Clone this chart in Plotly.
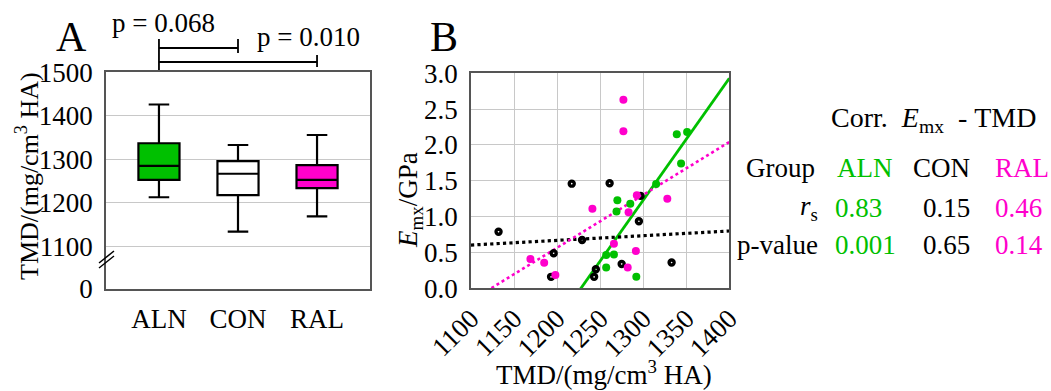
import plotly.graph_objects as go

# ---------------- data ----------------
categories = ["ALN", "CON", "RAL"]
box_lower = [1213, 1134, 1169]
box_q1 = [1253, 1218, 1234]
box_median = [1285, 1267, 1253]
box_q3 = [1337, 1296, 1287]
box_upper = [1426, 1333, 1356]
box_fill = ["#00c000", "#ffffff", "#ff00cc"]

yticks_A = [1003, 1100, 1200, 1300, 1400, 1500]
yticktext_A = ["0", "1100", "1200", "1300", "1400", "1500"]

sig_left = ["ALN", "ALN"]
sig_right = ["CON", "RAL"]
sig_text = ["p = 0.068", "p = 0.010"]

aln_tmd = [1339, 1351, 1344, 1315, 1270, 1285, 1269, 1257, 1266, 1257, 1292]
aln_emx = [2.15, 2.18, 1.74, 1.455, 1.23, 1.18, 1.07, 0.465, 0.47, 0.29, 0.16]
con_tmd = [1217, 1261, 1297, 1295, 1132, 1229, 1196, 1193, 1243, 1245, 1275, 1333]
con_emx = [1.46, 1.465, 1.29, 0.935, 0.79, 0.675, 0.49, 0.16, 0.16, 0.265, 0.34, 0.36]
ral_tmd = [1277, 1277, 1292.6, 1328, 1241, 1283, 1266, 1291.5, 1169, 1185, 1198, 1282]
ral_emx = [2.63, 2.19, 1.30, 1.25, 1.11, 1.06, 0.62, 0.52, 0.41, 0.357, 0.185, 0.29]

fit_slope = [0.0170, 0.000653, 0.00738]
fit_intercept = [-20.87, -0.115, -8.29]
fit_x = [1100, 1400]

rs_vals = ["0.83", "0.15", "0.46"]
p_vals = ["0.001", "0.65", "0.14"]

GREEN = "#00c000"
MAG = "#ff00cc"
FONT = "Liberation Serif"
FS = 27
W, H = 1051, 391


def px(x):
    return x / W


def py(y):
    return 1 - y / H


fig = go.Figure()

# ---------------- panel A: boxes ----------------
for i, c in enumerate(categories):
    fig.add_trace(go.Box(
        x=[i], q1=[box_q1[i]], median=[box_median[i]], q3=[box_q3[i]],
        lowerfence=[box_lower[i]], upperfence=[box_upper[i]],
        fillcolor=box_fill[i], line=dict(color="black", width=2.2),
        width=0.52, whiskerwidth=0.5, boxpoints=False,
        xaxis="x", yaxis="y", showlegend=False, hoverinfo="skip"))

# ---------------- panel B: scatter ----------------
groups = [(aln_tmd, aln_emx, GREEN), (con_tmd, con_emx, "black"), (ral_tmd, ral_emx, MAG)]
dashes = ["solid", "dot", "dot"]
widths = [2.8, 3.2, 2.6]
for k, (xs, ys, col) in enumerate(groups):
    fy = [fit_slope[k] * x + fit_intercept[k] for x in fit_x]
    fig.add_trace(go.Scatter(x=fit_x, y=fy, mode="lines",
                             line=dict(color=col, width=widths[k], dash=dashes[k]),
                             xaxis="x2", yaxis="y2", showlegend=False, hoverinfo="skip"))
for k, (xs, ys, col) in enumerate(groups):
    if col == "black":
        marker = dict(symbol="circle-open", size=5, color="black", line=dict(width=3.4, color="black"))
    else:
        marker = dict(symbol="circle", size=8, color=col, line=dict(width=0))
    fig.add_trace(go.Scatter(x=xs, y=ys, mode="markers", marker=marker,
                             xaxis="x2", yaxis="y2", showlegend=False, hoverinfo="skip"))

axis_common = dict(showline=True, linecolor="#555555", linewidth=1.5, mirror=True,
                   gridcolor="#c8c8c8", gridwidth=1.3, zeroline=False, automargin=False,
                   tickfont=dict(family=FONT, size=FS, color="black"))

fig.update_layout(
    width=W, height=H, margin=dict(l=0, r=0, t=0, b=0, autoexpand=False),
    paper_bgcolor="white", plot_bgcolor="white",
    font=dict(family=FONT, size=FS, color="black"),
    xaxis=dict(domain=[px(106), px(370)], range=[-0.67, 2.67],
               tickvals=[0, 1, 2], ticktext=categories, showgrid=False,
               ticks="", ticklabelstandoff=5, **{k: v for k, v in axis_common.items() if k != "gridcolor"}),
    yaxis=dict(domain=[py(288.7), py(72.3)], range=[1003, 1500],
               tickvals=yticks_A, ticktext=yticktext_A, ticks="", ticklabelstandoff=6,
               **axis_common),
    xaxis2=dict(domain=[px(471), px(729.3)], range=[1100, 1400], anchor="y2",
                tickvals=[1100, 1150, 1200, 1250, 1300, 1350, 1400], tickangle=-45,
                ticks="", ticklabelstandoff=2, **axis_common),
    yaxis2=dict(domain=[py(288.3), py(73.3)], range=[0, 3], anchor="x2",
                tickvals=[0, 0.5, 1, 1.5, 2, 2.5, 3], tickformat=".1f",
                ticks="", ticklabelstandoff=6, **axis_common),
)

# significance brackets
cat_idx = {c: i for i, c in enumerate(categories)}
bar_y = [48, 62]
bar_top = [39, 55]
text_pos = [(163, 23), (308, 37)]
shapes = []
for j in range(len(sig_text)):
    a, b = cat_idx[sig_left[j]], cat_idx[sig_right[j]]
    shapes.append(dict(type="line", xref="x", yref="paper", x0=a, x1=b,
                       y0=py(bar_y[j]), y1=py(bar_y[j]), line=dict(color="black", width=1.8)))
    shapes.append(dict(type="line", xref="x", yref="paper", x0=b, x1=b,
                       y0=py(bar_top[j]), y1=py(bar_y[j] + 5), line=dict(color="black", width=1.8)))
shapes.append(dict(type="line", xref="x", yref="paper", x0=0, x1=0,
                   y0=py(39), y1=py(70), line=dict(color="black", width=1.8)))
# axis break marks
for off in [0, 5]:
    shapes.append(dict(type="line", xref="paper", yref="paper",
                       x0=px(99), x1=px(114), y0=py(268 - off), y1=py(256 - off),
                       line=dict(color="black", width=1.5)))
fig.update_layout(shapes=shapes)

ann = []


def add(text, x, y, xanchor="center", yanchor="middle", size=FS, color="black", angle=0):
    ann.append(dict(text=text, x=px(x), y=py(y), xref="paper", yref="paper",
                    xanchor=xanchor, yanchor=yanchor, showarrow=False, textangle=angle,
                    font=dict(family=FONT, size=size, color=color)))


for j in range(len(sig_text)):
    add(sig_text[j], text_pos[j][0], text_pos[j][1])
add("A", 71, 37, size=42)
add("B", 444, 37, size=42)
add("TMD/(mg/cm<sup>3</sup> HA)", 27, 176, angle=-90, size=26)
add("<i>E</i><sub>mx</sub>/GPa", 410, 200, angle=-90)
add("TMD/(mg/cm<sup>3</sup> HA)", 604, 373)

add("Corr.&nbsp;&nbsp;<i>E</i><sub>mx</sub>&nbsp;&nbsp;-&nbsp;TMD", 933, 120, size=28)
add("Group", 817, 168, xanchor="right")
hdr_cols = [GREEN, "black", MAG]
add(categories[0], 835, 168, xanchor="left", color=hdr_cols[0])
add(categories[1], 972, 168, xanchor="right", color=hdr_cols[1])
add(categories[2], 993, 168, xanchor="left", color=hdr_cols[2])
add("<i>r</i><sub>s</sub>", 820, 208, xanchor="right")
add("p-value", 820, 245, xanchor="right")
anchors = ["left", "right", "left"]
xs_col = [833, 972, 993]
for k in range(3):
    add(rs_vals[k], xs_col[k], 208, xanchor=anchors[k], color=hdr_cols[k])
    add(p_vals[k], xs_col[k], 245, xanchor=anchors[k], color=hdr_cols[k])

fig.update_layout(annotations=ann)
fig.write_html("out.html", config={"displayModeBar": False},
               post_script="document.body.style.margin='0';")
